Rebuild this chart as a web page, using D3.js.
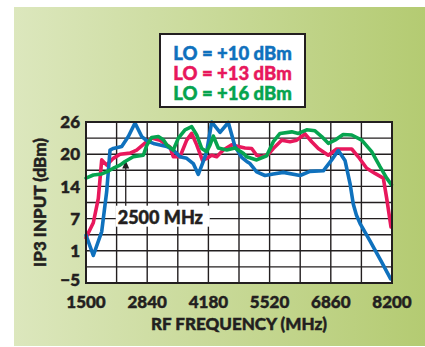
<!DOCTYPE html>
<html>
<head>
<meta charset="utf-8">
<script src="https://cdn.jsdelivr.net/npm/d3@7"></script>
<style>
    html, body { margin: 0; padding: 0; background: #fff; }
    svg { display: block; }
    .tick-label, .axis-title, .legend-text, .annot-text {
        font-family: Lato, 'Open Sans', sans-serif;
        font-weight: 900;
        fill: #231f20;
        stroke: #231f20;
        stroke-width: 0.45px;
    }
</style>
</head>
<body>
<div id="chart"></div>
<script>
// --- Data ---
const xTicks = [1500, 2840, 4180, 5520, 6860, 8200];
const yTickLabels = ['26', '20', '14', '7', '1', '\u22125'];

// [RF frequency MHz, IP3 input dBm]
const lo10 = [
    [1500, 4.2], [1660, 0.3], [1844, 4.9], [1953, 12.6], [2026, 20.6], [2098, 20.9],
    [2282, 21.3], [2427, 23.2], [2573, 25.8], [2720, 23.2], [2829, 22.4], [3000, 21.8],
    [3267, 21.3], [3411, 20.6], [3558, 19.3], [3705, 19.0], [3849, 18.0], [3959, 15.9],
    [4068, 18.4], [4143, 20.3], [4252, 26.0], [4434, 24.0], [4616, 25.9], [4762, 21.3],
    [4909, 19.2], [5019, 18.4], [5091, 18.0], [5237, 16.4], [5419, 15.7], [5600, 16.0],
    [5820, 16.3], [6186, 15.7], [6404, 16.5], [6696, 16.6], [6880, 18.7], [7024, 20.5],
    [7171, 18.6], [7280, 14.2], [7352, 10.2], [7420, 8.1], [7499, 6.5], [7718, 3.1],
    [7974, -1.0], [8170, -4.2]
];
const lo13 = [
    [1500, 3.7], [1660, 6.6], [1770, 11.3], [1844, 18.7], [1953, 17.7], [2098, 19.0],
    [2245, 19.8], [2464, 20.0], [2610, 20.6], [2829, 22.2], [2938, 22.9], [3120, 22.5],
    [3339, 21.2], [3411, 19.3], [3558, 19.3], [3705, 22.5], [3814, 23.8], [3924, 21.6],
    [4050, 18.6], [4143, 19.0], [4252, 19.6], [4362, 19.3], [4506, 20.6], [4690, 21.6],
    [4835, 21.3], [4981, 21.0], [5128, 20.9], [5237, 19.6], [5347, 19.3], [5492, 19.8],
    [5601, 20.9], [5785, 22.5], [5967, 22.2], [6113, 22.5], [6295, 23.7], [6442, 22.2],
    [6586, 20.9], [6805, 19.6], [6989, 20.8], [7318, 20.8], [7462, 19.3], [7646, 17.1],
    [7828, 16.1], [8010, 15.2], [8084, 11.3], [8178, 5.8]
];
const lo16 = [
    [1500, 15.2], [1660, 15.8], [1844, 16.0], [1953, 16.4], [2098, 17.1], [2245, 17.7],
    [2354, 18.4], [2536, 19.3], [2755, 19.6], [2830, 21.5], [2938, 23.0], [3084, 23.2],
    [3193, 22.6], [3267, 21.6], [3411, 20.6], [3522, 22.9], [3668, 24.5], [3814, 25.1],
    [3924, 23.5], [4033, 20.9], [4143, 20.3], [4216, 21.6], [4287, 23.3], [4397, 21.0],
    [4580, 20.6], [4762, 21.0], [4944, 20.0], [5018, 19.3], [5237, 18.7], [5456, 19.5],
    [5601, 22.2], [5748, 23.8], [6004, 24.1], [6150, 23.8], [6332, 24.5], [6514, 24.3],
    [6660, 23.2], [6805, 21.9], [6950, 22.5], [7130, 23.6], [7318, 23.5], [7537, 22.5],
    [7755, 20.3], [7937, 17.4], [8084, 15.2], [8190, 13.9]
];

const seriesNames = ['LO = +10 dBm', 'LO = +13 dBm', 'LO = +16 dBm'];
const seriesColors = ['#0f71bd', '#e8185c', '#06a44f'];
const annotation = { label: '2500 MHz', freq: 2370, tip: 18.6 };

// --- Layout ---
const width = 425, height = 347;
const margin = { top: 122, right: 33, bottom: 64, left: 86 };
const plotW = width - margin.left - margin.right;
const plotH = height - margin.top - margin.bottom;

const svg = d3.select('#chart').append('svg')
    .attr('width', width)
    .attr('height', height);

// Background gradient panel
const grad = svg.append('defs').append('linearGradient')
    .attr('id', 'bg')
    .attr('x1', '0%').attr('x2', '100%');
grad.append('stop').attr('offset', '0%').attr('stop-color', '#dce7bd');
grad.append('stop').attr('offset', '100%').attr('stop-color', '#b4cb72');

svg.append('rect')
    .attr('x', 14).attr('y', 7)
    .attr('width', width - 14).attr('height', 339)
    .attr('fill', 'url(#bg)');

const x = d3.scaleLinear().domain([1500, 8200]).range([0, plotW]);
const y = d3.scaleLinear().domain([-5, 26]).range([plotH, 0]);

// equally spaced grid; labels sit on every other line
const yStep = (26 - -5) / 10;
const yGrid = d3.range(11).map(i => -5 + i * yStep);
const xGrid = d3.range(11).map(i => 1500 + i * 670);

const g = svg.append('g')
    .attr('transform', `translate(${margin.left},${margin.top})`);

g.append('rect')
    .attr('width', plotW).attr('height', plotH)
    .attr('fill', '#fff');

// --- Grid ---
g.selectAll('.hgrid')
    .data(yGrid)
    .enter().append('line')
    .attr('x1', 0).attr('x2', plotW)
    .attr('y1', d => y(d)).attr('y2', d => y(d))
    .attr('stroke', '#231f20').attr('stroke-width', 1.4);

g.selectAll('.vgrid')
    .data(xGrid)
    .enter().append('line')
    .attr('y1', 0).attr('y2', plotH)
    .attr('x1', d => x(d)).attr('x2', d => x(d))
    .attr('stroke', '#231f20').attr('stroke-width', 1.4);

// --- Annotation box (behind the curves) ---
const ax = x(annotation.freq);
g.append('rect')
    .attr('x', ax - 10).attr('y', y(7) - 15)
    .attr('width', 94).attr('height', 21)
    .attr('fill', '#fff');

g.append('line')
    .attr('x1', ax).attr('x2', ax)
    .attr('y1', y(7) - 15).attr('y2', y(annotation.tip) + 4)
    .attr('stroke', '#231f20').attr('stroke-width', 1.3);

g.append('path')
    .attr('d', `M${ax},${y(annotation.tip)} l-3.5,8 l7,0 z`)
    .attr('fill', '#231f20');

g.append('text')
    .attr('class', 'annot-text')
    .attr('x', ax - 8).attr('y', y(7) + 3)
    .attr('font-size', 18)
    .text(annotation.label);

// --- Curves ---
const line = d3.line()
    .x(d => x(d[0]))
    .y(d => y(d[1]));

const drawOrder = [1, 0, 2];
const allSeries = [lo10, lo13, lo16];
drawOrder.forEach(i => {
    g.append('path')
        .datum(allSeries[i])
        .attr('d', line)
        .attr('fill', 'none')
        .attr('stroke', seriesColors[i])
        .attr('stroke-width', 3.6)
        .attr('stroke-linejoin', 'round')
        .attr('stroke-linecap', 'round');
});

// plot frame
g.append('rect')
    .attr('width', plotW).attr('height', plotH)
    .attr('fill', 'none')
    .attr('stroke', '#231f20').attr('stroke-width', 2);

// --- Axis labels ---
g.selectAll('.ylab')
    .data(yTickLabels)
    .enter().append('text')
    .attr('class', 'tick-label')
    .attr('x', -6)
    .attr('y', (d, i) => y(26 - i * 2 * yStep) - (i === 5 ? 3 : 0))
    .attr('dy', '0.36em')
    .attr('text-anchor', 'end')
    .attr('font-size', 17)
    .text(d => d);

g.selectAll('.xlab')
    .data(xTicks)
    .enter().append('text')
    .attr('class', 'tick-label')
    .attr('x', d => x(d))
    .attr('y', plotH + 25)
    .attr('text-anchor', 'middle')
    .attr('font-size', 17)
    .text(d => d);

g.append('text')
    .attr('class', 'axis-title')
    .attr('x', plotW / 2)
    .attr('y', plotH + 47)
    .attr('text-anchor', 'middle')
    .attr('font-size', 17)
    .text('RF FREQUENCY (MHz)');

g.append('text')
    .attr('class', 'axis-title')
    .attr('transform', `translate(-40,${plotH / 2}) rotate(-90)`)
    .attr('text-anchor', 'middle')
    .attr('font-size', 17)
    .text('IP3 INPUT (dBm)');

// --- Legend ---
const legend = svg.append('g').attr('transform', 'translate(160,34)');
legend.append('rect')
    .attr('width', 145).attr('height', 73)
    .attr('fill', '#fff')
    .attr('stroke', '#231f20').attr('stroke-width', 2);

legend.selectAll('.legend-text')
    .data(seriesNames)
    .enter().append('text')
    .attr('class', 'legend-text')
    .attr('x', 72.5)
    .attr('y', (d, i) => 25.5 + i * 20)
    .attr('text-anchor', 'middle')
    .attr('font-size', 18.5)
    .style('fill', (d, i) => seriesColors[i])
    .style('stroke', (d, i) => seriesColors[i])
    .text(d => d);
</script>
</body>
</html>
